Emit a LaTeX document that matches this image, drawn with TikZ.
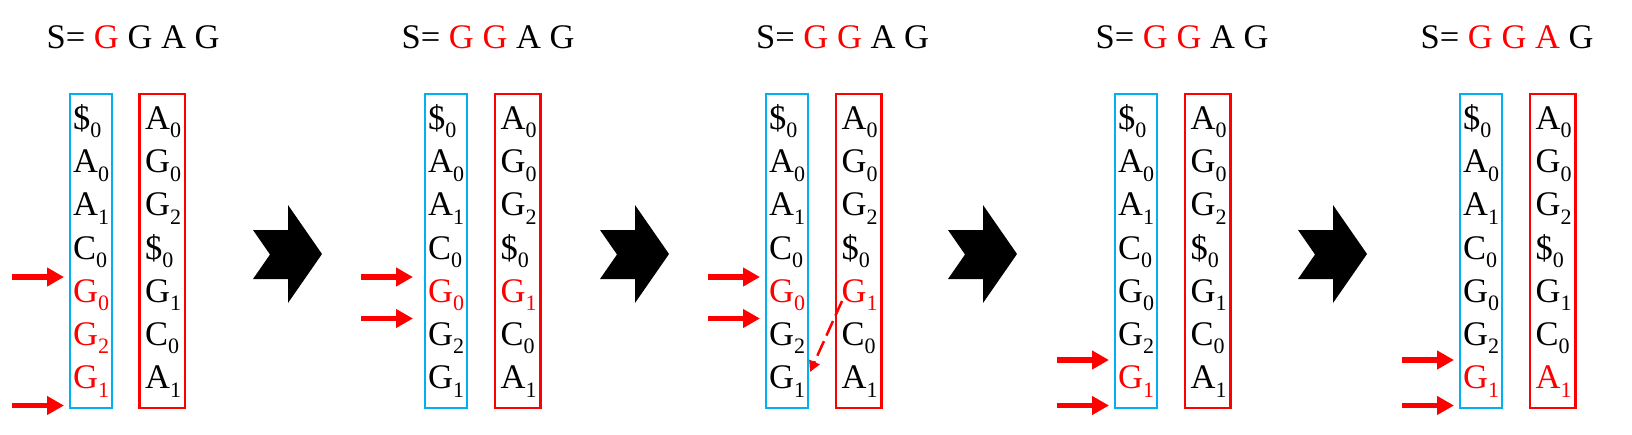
\documentclass[tikz,border=0pt]{standalone}
\usepackage{fontspec}
\setmainfont{Liberation Serif}
\usetikzlibrary{arrows.meta}
\definecolor{boxblue}{HTML}{00B0F0}
\definecolor{boxred}{HTML}{FF0000}
\newcommand\sbx[2]{#1\raisebox{-8.4pt}{\fontsize{22}{22}\selectfont #2}}
\tikzset{
  cell/.style={anchor=base west, inner sep=0pt, font=\fontsize{34.5}{40}\selectfont},
  title/.style={anchor=base west, inner sep=0pt, font=\fontsize{34.5}{40}\selectfont},
  bluebox/.style={draw=boxblue, line width=2.5pt},
  redbox/.style={draw=boxred, line width=2.5pt},
  redarrow/.style={draw=red, line width=5.5pt, -{Triangle[length=17pt,width=18pt]}},
  dasharrow/.style={draw=red, line width=2.5pt, dash pattern=on 16pt off 6pt, -{Triangle[length=11pt,width=11pt]}},
  chevron/.style={fill=black}
}
% blue column: prefix, box-left x, colours of the 7 entries
\newcommand\bluecol[9]{%
  \draw[bluebox] (#2,94) rectangle ({#2+42},408);
  \node[cell,text=#3] (#1b0) at ({#2+3},129.5) {\sbx{\$}{0}};
  \node[cell,text=#4] (#1b1) at ({#2+3},172.7) {\sbx{A}{0}};
  \node[cell,text=#5] (#1b2) at ({#2+3},215.9) {\sbx{A}{1}};
  \node[cell,text=#6] (#1b3) at ({#2+3},259.1) {\sbx{C}{0}};
  \node[cell,text=#7] (#1b4) at ({#2+3},302.3) {\sbx{G}{0}};
  \node[cell,text=#8] (#1b5) at ({#2+3},345.5) {\sbx{G}{2}};
  \node[cell,text=#9] (#1b6) at ({#2+3},388.7) {\sbx{G}{1}};
}
\newcommand\redcol[9]{%
  \draw[redbox] (#2,94) rectangle ({#2+45.5},408);
  \node[cell,text=#3] (#1r0) at ({#2+5.5},129.5) {\sbx{A}{0}};
  \node[cell,text=#4] (#1r1) at ({#2+5.5},172.7) {\sbx{G}{0}};
  \node[cell,text=#5] (#1r2) at ({#2+5.5},215.9) {\sbx{G}{2}};
  \node[cell,text=#6] (#1r3) at ({#2+5.5},259.1) {\sbx{\$}{0}};
  \node[cell,text=#7] (#1r4) at ({#2+5.5},302.3) {\sbx{G}{1}};
  \node[cell,text=#8] (#1r5) at ({#2+5.5},345.5) {\sbx{C}{0}};
  \node[cell,text=#9] (#1r6) at ({#2+5.5},388.7) {\sbx{A}{1}};
}
\newcommand\chev[1]{%
  \path[chevron] (#1,230) -- ({#1+35},230) -- ({#1+35},205) -- ({#1+69},254)
    -- ({#1+35},303) -- ({#1+35},279) -- (#1,279) -- ({#1+17},254.5) -- cycle;
}
\newcommand\rarrow[3]{% name, tip x, y
  \coordinate (#1t) at ({#2-52},#3);
  \coordinate (#1h) at (#2,#3);
  \draw[redarrow] (#1t) -- (#1h);
}
\begin{document}
\begin{tikzpicture}[x=1pt,y=-1pt]
\useasboundingbox (0,0) rectangle (1632,434);
\fill[white] (0,0) rectangle (1632,434);
% titles
\node[title] (t1) at (46.5,48) {S= \textcolor{red}{G} G A G};
\node[title] (t2) at (401.5,48) {S= \textcolor{red}{G} \textcolor{red}{G} A G};
\node[title] (t3) at (756,48) {S= \textcolor{red}{G} \textcolor{red}{G} A G};
\node[title] (t4) at (1095.5,48) {S= \textcolor{red}{G} \textcolor{red}{G} A G};
\node[title] (t5) at (1420.5,48) {S= \textcolor{red}{G} \textcolor{red}{G} \textcolor{red}{A} G};
% panel 1
\bluecol{p1}{70}{black}{black}{black}{black}{red}{red}{red}
\redcol{p1}{139.5}{black}{black}{black}{black}{black}{black}{black}
\rarrow{p1a}{64}{277}
\rarrow{p1b}{64}{405.5}
% panel 2
\bluecol{p2}{425}{black}{black}{black}{black}{red}{black}{black}
\redcol{p2}{495}{black}{black}{black}{black}{red}{black}{black}
\rarrow{p2a}{413}{277}
\rarrow{p2b}{413}{318.5}
% panel 3
\bluecol{p3}{766}{black}{black}{black}{black}{red}{black}{black}
\redcol{p3}{836}{black}{black}{black}{black}{red}{black}{black}
\rarrow{p3a}{760}{277}
\rarrow{p3b}{760}{318.5}
\coordinate (p3ds) at (842,301);
\coordinate (p3de) at (810,372);
\draw[dasharrow] (p3ds) -- (p3de);
% panel 4
\bluecol{p4}{1115}{black}{black}{black}{black}{black}{black}{red}
\redcol{p4}{1185}{black}{black}{black}{black}{black}{black}{black}
\rarrow{p4a}{1109}{360}
\rarrow{p4b}{1109}{405.5}
% panel 5
\bluecol{p5}{1460}{black}{black}{black}{black}{black}{black}{red}
\redcol{p5}{1530}{black}{black}{black}{black}{black}{black}{red}
\rarrow{p5a}{1454}{360}
\rarrow{p5b}{1454}{405.5}
% chevrons
\chev{253}
\chev{600}
\chev{948}
\chev{1298}
\end{tikzpicture}
\end{document}
